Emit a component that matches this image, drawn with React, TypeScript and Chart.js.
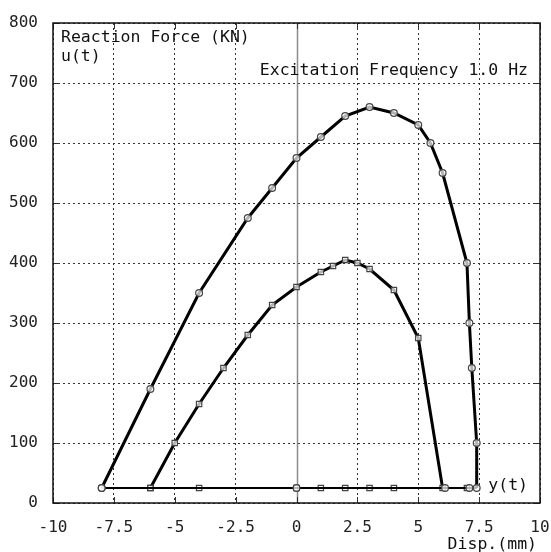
import React, { useEffect, useRef } from "react";
import { Chart, registerables } from "chart.js";

Chart.register(...registerables);

// Outer loop (circles)
const outerX = [-8, -6, -4, -2, -1, 0, 1, 2, 3, 4, 5, 5.5, 6, 7, 7.1, 7.2, 7.4, 7.4, 7.1, 6.1, 0, -8];
const outerY = [25, 190, 350, 475, 525, 575, 610, 645, 660, 650, 630, 600, 550, 400, 300, 225, 100, 25, 25, 25, 25, 25];

// Inner loop (squares)
const innerX = [-6, -5, -4, -3, -2, -1, 0, 1, 1.5, 2, 2.5, 3, 4, 5, 6, 7, 4, 3, 2, 1, 0, -4, -6];
const innerY = [25, 100, 165, 225, 280, 330, 360, 385, 395, 405, 400, 390, 355, 275, 25, 25, 25, 25, 25, 25, 25, 25, 25];

const xTickValues = [-10, -7.5, -5, -2.5, 0, 2.5, 5, 7.5, 10];
const xTickLabels = ["-10", "-7.5", "-5", "-2.5", "0", "2.5", "5", "7.5", "10"];
const yTickValues = [0, 100, 200, 300, 400, 500, 600, 700, 800];

const yTitle1 = "Reaction Force (KN)";
const yTitle2 = "u(t)";
const freqLabel = "Excitation Frequency 1.0 Hz";
const xSeriesLabel = "y(t)";
const xTitle = "Disp.(mm)";

const FONT = "'DejaVu Sans Mono', 'Liberation Mono', monospace";

const toPoints = (xs: number[], ys: number[]) => xs.map((x, i) => ({ x, y: ys[i] }));

const framePlugin = {
  id: "framePlugin",
  beforeDatasetsDraw(chart: any) {
    const { ctx, chartArea, scales } = chart;
    const { left, right, top, bottom } = chartArea;
    ctx.save();
    // solid vertical line at x = 0
    const x0 = Math.round(scales.x.getPixelForValue(0)) + 0.5;
    ctx.strokeStyle = "#8a8a8a";
    ctx.lineWidth = 1.5;
    ctx.beginPath();
    ctx.moveTo(x0, top);
    ctx.lineTo(x0, bottom);
    ctx.stroke();
    // small inward tick marks
    ctx.strokeStyle = "#333";
    ctx.lineWidth = 1;
    yTickValues.forEach((v) => {
      const y = Math.round(scales.y.getPixelForValue(v)) + 0.5;
      ctx.beginPath();
      ctx.moveTo(left, y);
      ctx.lineTo(left + 6, y);
      ctx.moveTo(right, y);
      ctx.lineTo(right - 6, y);
      ctx.stroke();
    });
    xTickValues.forEach((v) => {
      const x = Math.round(scales.x.getPixelForValue(v)) + 0.5;
      ctx.beginPath();
      ctx.moveTo(x, bottom);
      ctx.lineTo(x, bottom - 6);
      ctx.moveTo(x, top);
      ctx.lineTo(x, top + 6);
      ctx.stroke();
    });
    // frame
    ctx.strokeStyle = "#111";
    ctx.lineWidth = 1.5;
    ctx.strokeRect(left, top, right - left, bottom - top);
    ctx.restore();
  },
  afterDraw(chart: any) {
    const { ctx, chartArea } = chart;
    const { left, right, top, bottom } = chartArea;
    ctx.save();
    ctx.fillStyle = "#111";
    ctx.font = `16.5px ${FONT}`;
    ctx.textBaseline = "middle";
    ctx.textAlign = "left";
    ctx.fillText(yTitle1, left + 8, top + 15);
    ctx.fillText(yTitle2, left + 8, top + 34);
    ctx.textAlign = "right";
    ctx.fillText(freqLabel, right - 12, top + 48);
    ctx.fillText(xSeriesLabel, right - 12, bottom - 17);
    ctx.fillText(xTitle, right - 3, bottom + 42);
    ctx.restore();
  },
};

export default function App() {
  const canvasRef = useRef<HTMLCanvasElement | null>(null);

  useEffect(() => {
    document.body.style.margin = "0";
    const canvas = canvasRef.current;
    if (!canvas) return;
    const thinBottom = (c: any) =>
      c.p0.parsed.y === 25 && c.p1.parsed.y === 25 ? 2 : undefined;
    const chart = new Chart(canvas, {
      type: "scatter",
      data: {
        datasets: [
          {
            label: "outer",
            data: toPoints(outerX, outerY),
            showLine: true,
            borderColor: "#000",
            borderWidth: 3,
            tension: 0,
            pointStyle: "circle",
            pointRadius: 3.4,
            pointBackgroundColor: "rgba(255,255,255,0.7)",
            pointBorderColor: "#444",
            pointBorderWidth: 1.2,
            segment: { borderWidth: thinBottom },
          },
          {
            label: "inner",
            data: toPoints(innerX, innerY),
            showLine: true,
            borderColor: "#000",
            borderWidth: 3,
            tension: 0,
            pointStyle: "rect",
            pointRadius: 3.8,
            pointBackgroundColor: "rgba(255,255,255,0.7)",
            pointBorderColor: "#444",
            pointBorderWidth: 1.2,
            segment: { borderWidth: thinBottom },
          },
        ],
      },
      options: {
        animation: false,
        responsive: true,
        maintainAspectRatio: false,
        layout: { padding: { top: 23, right: 11, left: 0, bottom: 0 } },
        plugins: {
          legend: { display: false },
          tooltip: { enabled: false },
          title: { display: false },
        },
        scales: {
          x: {
            type: "linear",
            min: -10,
            max: 10,
            afterFit: (s: any) => {
              s.height = 49;
              s.paddingLeft = 0;
              s.paddingRight = 0;
            },
            afterBuildTicks: (s: any) => {
              s.ticks = xTickValues.map((v) => ({ value: v }));
            },
            border: { display: false, dash: [2, 3] },
            grid: {
              drawTicks: false,
              color: (c: any) => (c.tick && c.tick.value === 0 ? "rgba(0,0,0,0)" : "#333"),
              lineWidth: 1,
            },
            ticks: {
              padding: 15,
              color: "#222",
              font: { family: FONT, size: 16 },
              maxRotation: 0,
              autoSkip: false,
              callback: (v: any) => {
                const i = xTickValues.indexOf(Number(v));
                return i >= 0 ? xTickLabels[i] : "";
              },
            },
          },
          y: {
            type: "linear",
            min: 0,
            max: 800,
            afterFit: (s: any) => {
              s.width = 53;
              s.paddingTop = 0;
              s.paddingBottom = 0;
            },
            afterBuildTicks: (s: any) => {
              s.ticks = yTickValues.map((v) => ({ value: v }));
            },
            border: { display: false, dash: [2, 3] },
            grid: {
              drawTicks: false,
              color: "#333",
              lineWidth: 1,
            },
            ticks: {
              padding: 15,
              color: "#222",
              font: { family: FONT, size: 16 },
              callback: (v: any) => String(v),
            },
          },
        },
      },
      plugins: [framePlugin],
    });
    return () => chart.destroy();
  }, []);

  return (
    <div style={{ position: "fixed", left: 0, top: 0, width: 551, height: 552, background: "#fff" }}>
      <canvas ref={canvasRef} />
    </div>
  );
}
